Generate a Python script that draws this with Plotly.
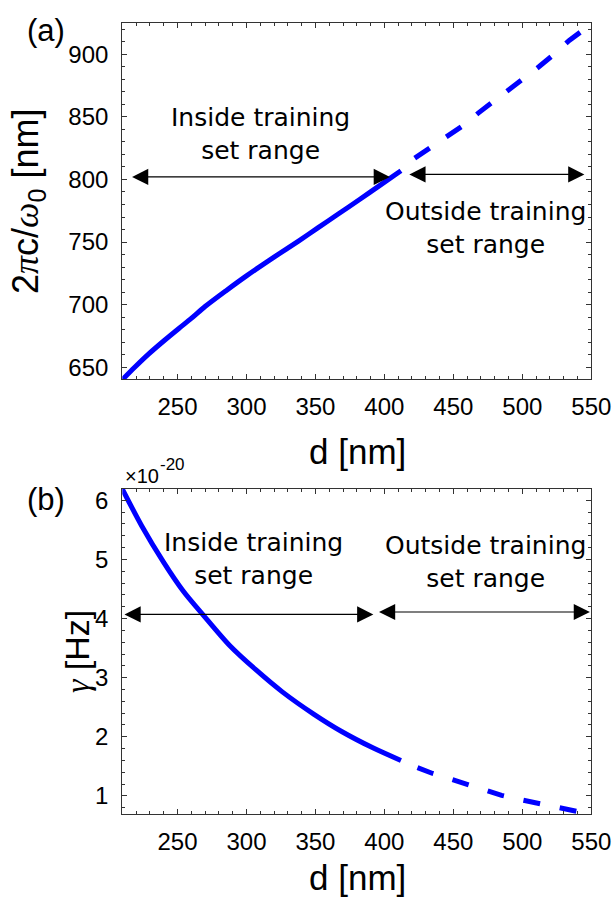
import plotly.graph_objects as go

# ---------------- data ----------------
# panel (a): resonance wavelength 2*pi*c/omega0 [nm] vs d [nm]
d_a_in = [210, 219, 229, 240, 251, 260, 270, 285, 300, 320, 338, 352, 366, 382, 397, 412]
lam_in = [640, 650, 660.5, 671, 681, 689, 698.5, 711, 723, 738, 751, 761.5, 772, 784, 795.5, 807]
d_a_out = [422, 434, 446, 457, 468, 479, 491, 501, 512, 523, 534, 545, 550]
lam_out = [817, 826, 834, 843, 853, 862, 872, 881, 890, 900, 911, 920, 925]

# panel (b): damping gamma [x1e-20 Hz] vs d [nm]
d_b_in = [210, 224, 240, 254, 269, 288, 307, 326, 349, 369, 392, 412]
gam_in = [6.19, 5.57, 4.95, 4.47, 4.05, 3.54, 3.13, 2.76, 2.38, 2.09, 1.81, 1.60]
d_b_out = [424, 435, 449, 460, 473, 485, 498, 510, 524, 536, 550]
gam_out = [1.48, 1.38, 1.28, 1.20, 1.10, 1.01, 0.94, 0.88, 0.82, 0.75, 0.69]

x_ticks = [250, 300, 350, 400, 450, 500, 550]
ya_ticks = [650, 700, 750, 800, 850, 900]
yb_ticks = [1, 2, 3, 4, 5, 6]

W, H = 613, 899
BLUE = "#0000ff"
AX = "#333333"
SANS = "Liberation Sans, Arial, sans-serif"
SERIF = "Liberation Serif, Times New Roman, serif"
TICKFONT = dict(family=SANS, size=24, color="black")
TXTFONT = dict(family="DejaVu Sans, sans-serif", size=25, color="black")


def px_x(p):
    return p / W


def px_y(p):
    return 1 - p / H


fig = go.Figure()
fig.add_trace(go.Scatter(x=d_a_in, y=lam_in, mode="lines",
                         line=dict(color=BLUE, width=5, shape="spline", smoothing=0.8),
                         xaxis="x", yaxis="y", showlegend=False))
fig.add_trace(go.Scatter(x=d_a_out, y=lam_out, mode="lines",
                         line=dict(color=BLUE, width=5, dash="18px,20px"),
                         xaxis="x", yaxis="y", showlegend=False))
fig.add_trace(go.Scatter(x=d_b_in, y=gam_in, mode="lines",
                         line=dict(color=BLUE, width=5, shape="spline", smoothing=0.8),
                         xaxis="x2", yaxis="y2", showlegend=False))
fig.add_trace(go.Scatter(x=d_b_out, y=gam_out, mode="lines",
                         line=dict(color=BLUE, width=5, dash="17px,20px"),
                         xaxis="x2", yaxis="y2", showlegend=False))

common = dict(showline=True, linecolor=AX, linewidth=1.3, mirror="allticks",
              ticks="inside", ticklen=5, tickwidth=1, tickcolor=AX,
              showgrid=False, zeroline=False, tickfont=TICKFONT, automargin=False)

xdom = [px_x(122.3), px_x(591.3)]
fig.update_layout(
    width=W, height=H, plot_bgcolor="white", paper_bgcolor="white",
    margin=dict(l=0, r=0, t=0, b=0),
    xaxis=dict(domain=xdom, range=[210, 550], tickvals=x_ticks, anchor="y",
               minor=dict(ticks="inside", ticklen=3, dtick=10, tick0=0, tickcolor=AX),
               ticklabelstandoff=6, **common),
    yaxis=dict(domain=[px_y(379.3), px_y(22.7)], range=[640.4, 925.2], tickvals=ya_ticks,
               anchor="x",
               minor=dict(ticks="inside", ticklen=3, dtick=10, tick0=0, tickcolor=AX),
               ticklabelstandoff=8, **common),
    xaxis2=dict(domain=xdom, range=[210, 550], tickvals=x_ticks, anchor="y2",
                minor=dict(ticks="inside", ticklen=3, dtick=10, tick0=0, tickcolor=AX),
                ticklabelstandoff=6, **common),
    yaxis2=dict(domain=[px_y(814.3), px_y(489)], range=[0.69, 6.19], tickvals=yb_ticks,
                anchor="x2",
                minor=dict(ticks="inside", ticklen=3, dtick=0.2, tick0=0, tickcolor=AX),
                ticklabelstandoff=8, **common),
)

ann = []
# text labels
ann.append(dict(x=310, y=836, xref="x", yref="y", text="Inside training<br>set range",
                showarrow=False, font=TXTFONT, align="center"))
ann.append(dict(x=473, y=761, xref="x", yref="y", text="Outside training<br>set range",
                showarrow=False, font=TXTFONT, align="center"))
ann.append(dict(x=305, y=5.0, xref="x2", yref="y2", text="Inside training<br>set range",
                showarrow=False, font=TXTFONT, align="center"))
ann.append(dict(x=473, y=4.95, xref="x2", yref="y2", text="Outside training<br>set range",
                showarrow=False, font=TXTFONT, align="center"))

# double arrows
arrows = [("x", "y", 216, 404, 802, 802), ("x", "y", 417, 545, 804, 804),
          ("x2", "y2", 210.5, 392, 4.07, 4.07), ("x2", "y2", 395, 549, 4.11, 4.11)]
for xr, yr, x0, x1, y0, y1 in arrows:
    ann.append(dict(x=x1, y=y1, ax=x0, ay=y0, xref=xr, yref=yr, axref=xr, ayref=yr,
                    text="", showarrow=True, arrowside="end+start", arrowhead=2,
                    startarrowhead=2, arrowsize=2.7, startarrowsize=2.7, arrowwidth=1.2,
                    arrowcolor="black", standoff=0, startstandoff=0))

TF = dict(family=SANS, size=35, color="black")
# axis titles
ann.append(dict(x=px_x(357), y=px_y(451), xref="paper", yref="paper", text="d [nm]",
                showarrow=False, font=TF, xanchor="center", yanchor="middle"))
ann.append(dict(x=px_x(357), y=0, xref="paper", yref="paper", text="d [nm]",
                showarrow=False, font=TF, xanchor="center", yanchor="bottom"))
ann.append(dict(x=px_x(28), y=px_y(201), xref="paper", yref="paper",
                text=f"2<span style='font-family:{SERIF}'><i>π</i></span>c/"
                     f"<span style='font-family:{SERIF}'><i>ω</i></span><sub>0</sub> [nm]",
                textangle=-90,
                showarrow=False, font=dict(family=SANS, size=36, color="black"),
                xanchor="center", yanchor="middle"))
ann.append(dict(x=px_x(77), y=px_y(652), xref="paper", yref="paper",
                text=f"<span style='font-family:{SERIF}'><i>γ</i></span> [Hz]", textangle=-90,
                showarrow=False, font=dict(family=SANS, size=34, color="black"),
                xanchor="center", yanchor="middle"))
# panel labels
PF = dict(family=SANS, size=31, color="black")
ann.append(dict(x=px_x(46), y=px_y(30), xref="paper", yref="paper", text="(a)",
                showarrow=False, font=PF, xanchor="center", yanchor="middle"))
ann.append(dict(x=px_x(46), y=px_y(500), xref="paper", yref="paper", text="(b)",
                showarrow=False, font=PF, xanchor="center", yanchor="middle"))
# exponent of the gamma axis
ann.append(dict(x=px_x(123), y=px_y(476), xref="paper", yref="paper",
                text="×10", showarrow=False,
                font=dict(family=SANS, size=20, color="black"),
                xanchor="left", yanchor="middle"))
ann.append(dict(x=px_x(158), y=px_y(464), xref="paper", yref="paper",
                text="-20", showarrow=False,
                font=dict(family=SANS, size=17, color="black"),
                xanchor="left", yanchor="middle"))

fig.update_layout(annotations=ann)
fig.write_html("out.html", config={"displayModeBar": False},
               post_script="document.body.style.margin='0';document.body.style.overflow='hidden';")
